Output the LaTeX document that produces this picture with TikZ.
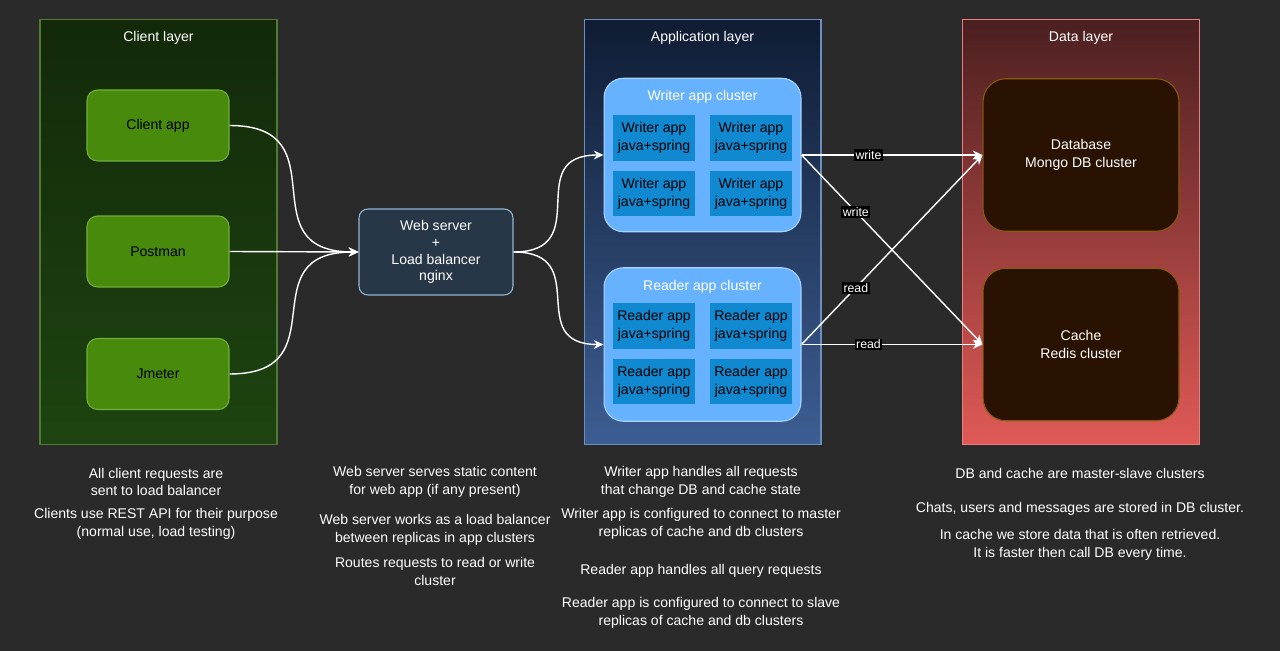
\documentclass[tikz,border=0pt]{standalone}
\usepackage{fontspec}
\setmainfont{Liberation Sans}
\usetikzlibrary{arrows.meta}

\definecolor{bgcol}{HTML}{2A2A2A}
\definecolor{clienttop}{HTML}{13290A}
\definecolor{clientbot}{HTML}{1D4410}
\definecolor{clientedge}{HTML}{4F7A30}
\definecolor{clientfill}{HTML}{478A0C}
\definecolor{clientline}{HTML}{6FB03A}
\definecolor{webfill}{HTML}{273747}
\definecolor{webline}{HTML}{94B4D4}
\definecolor{apptop}{HTML}{0F1C33}
\definecolor{appbot}{HTML}{3D5E93}
\definecolor{appedge}{HTML}{6C8EBF}
\definecolor{clusterfill}{HTML}{66B2FF}
\definecolor{clusterline}{HTML}{A8D4FF}
\definecolor{nodefill}{HTML}{1089D1}
\definecolor{datatop}{HTML}{4B1F20}
\definecolor{databot}{HTML}{E05A56}
\definecolor{dataedge}{HTML}{E88080}
\definecolor{storefill}{HTML}{2A1203}
\definecolor{storeline}{HTML}{8B5A0B}

\begin{document}
\begin{tikzpicture}[x=0.02cm,y=-0.02cm,
    txt/.style={text=white,font=\fontsize{8}{10.2}\selectfont,align=center,inner sep=0,yshift=-0.04cm},
    layer/.style={line width=0.6pt,minimum width=4.74cm,minimum height=8.52cm},
    client/.style={draw=clientline,fill=clientfill,line width=0.6pt,rounded corners=6pt,minimum width=2.84cm,minimum height=1.42cm,font=\fontsize{8}{10.2}\selectfont,text=black},
    web/.style={draw=webline,fill=webfill,line width=0.6pt,rounded corners=5pt,minimum width=3.08cm,minimum height=1.72cm,font=\fontsize{8}{9.6}\selectfont,text=white,align=center},
    cluster/.style={draw=clusterline,fill=clusterfill,line width=0.6pt,rounded corners=11pt,minimum width=3.94cm,minimum height=3.07cm},
    app/.style={fill=nodefill,minimum width=1.64cm,minimum height=0.92cm,inner sep=0,align=center,font=\fontsize{8}{10.2}\selectfont,text=black},
    store/.style={draw=storeline,fill=storefill,line width=0.6pt,rounded corners=13pt,minimum width=3.92cm,minimum height=3.05cm,font=\fontsize{8}{10.2}\selectfont,text=white,align=center},
    link/.style={draw=white,line width=0.8pt,-{Stealth[length=5.5pt,width=5pt]}},
    lbl/.style={fill=black,text=white,inner sep=0.8pt,font=\fontsize{7}{8}\selectfont}]

    \fill[bgcol] (0,0) rectangle (1280,651);
    \useasboundingbox (0,0) rectangle (1280,651);

    \node[layer,draw=clientedge,top color=clienttop,bottom color=clientbot] (clientlayer) at (158.5,232) {};
    \node[layer,draw=appedge,top color=apptop,bottom color=appbot] (applayer) at (702.5,232) {};
    \node[layer,draw=dataedge,top color=datatop,bottom color=databot] (datalayer) at (1081,232) {};
    \node[txt] (clienttitle) at (158.5,36) {Client layer};
    \node[txt] (apptitle) at (702.5,36) {Application layer};
    \node[txt] (datatitle) at (1081,36) {Data layer};

    \node[client] (capp) at (158,125.5) {Client app};
    \node[client] (postman) at (158,251.5) {Postman};
    \node[client] (jmeter) at (158,374) {Jmeter};

    \node[web] (web) at (436,252) {Web server\\+\\Load balancer\\nginx};

    \node[cluster] (writer) at (702.5,155) {};
    \node[txt] (wtitle) at (702.5,95) {Writer app cluster};
    \node[app] (w1) at (654,138) {Writer app\\java+spring};
    \node[app] (w2) at (751,138) {Writer app\\java+spring};
    \node[app] (w3) at (654,193.5) {Writer app\\java+spring};
    \node[app] (w4) at (751,193.5) {Writer app\\java+spring};

    \node[cluster] (reader) at (702.5,344.5) {};
    \node[txt] (rtitle) at (702.5,285) {Reader app cluster};
    \node[app] (r1) at (654,326) {Reader app\\java+spring};
    \node[app] (r2) at (751,326) {Reader app\\java+spring};
    \node[app] (r3) at (654,381.5) {Reader app\\java+spring};
    \node[app] (r4) at (751,381.5) {Reader app\\java+spring};

    \node[store] (db) at (1081,155) {Database\\Mongo DB cluster};
    \node[store] (cache) at (1081,344.5) {Cache\\Redis cluster};

    \draw[link] (capp.east) to[out=0,in=180,looseness=1.6] (web.west);
    \draw[link] (postman.east) -- (web.west);
    \draw[link] (jmeter.east) to[out=0,in=180,looseness=1.6] (web.west);
    \draw[link] (web.east) to[out=0,in=180,looseness=1.6] (writer.west);
    \draw[link] (web.east) to[out=0,in=180,looseness=1.6] (reader.west);
    \draw[link] (writer.east) -- node[lbl,pos=0.37] {write} (db.west);
    \draw[link] (writer.east) -- node[lbl,pos=0.3] {write} (cache.west);
    \draw[link] (reader.east) -- node[lbl,pos=0.3] {read} (db.west);
    \draw[link] (reader.east) -- node[lbl,pos=0.37] {read} (cache.west);

    \node[txt] (cnote1) at (156,480) {All client requests are\\sent to load balancer};
    \node[txt] (cnote2) at (156,522) {Clients use REST API for their purpose\\(normal use, load testing)};
    \node[txt] (wnote1) at (435,480) {Web server serves static content\\for web app (if any present)};
    \node[txt] (wnote2) at (435,528) {Web server works as a load balancer\\between replicas in app clusters};
    \node[txt] (wnote3) at (435,569.5) {Routes requests to read or write\\cluster};
    \node[txt] (anote1) at (701,480) {Writer app handles all requests\\that change DB and cache state};
    \node[txt] (anote2) at (701,522) {Writer app is configured to connect to master\\replicas of cache and db clusters};
    \node[txt] (anote3) at (701,569) {Reader app handles all query requests};
    \node[txt] (anote4) at (701,611) {Reader app is configured to connect to slave\\replicas of cache and db clusters};
    \node[txt] (dnote1) at (1080,471) {DB and cache are master-slave clusters};
    \node[txt] (dnote2) at (1080,507) {Chats, users and messages are stored in DB cluster.};
    \node[txt] (dnote3) at (1080,543) {In cache we store data that is often retrieved.\\It is faster then call DB every time.};
\end{tikzpicture}
\end{document}
